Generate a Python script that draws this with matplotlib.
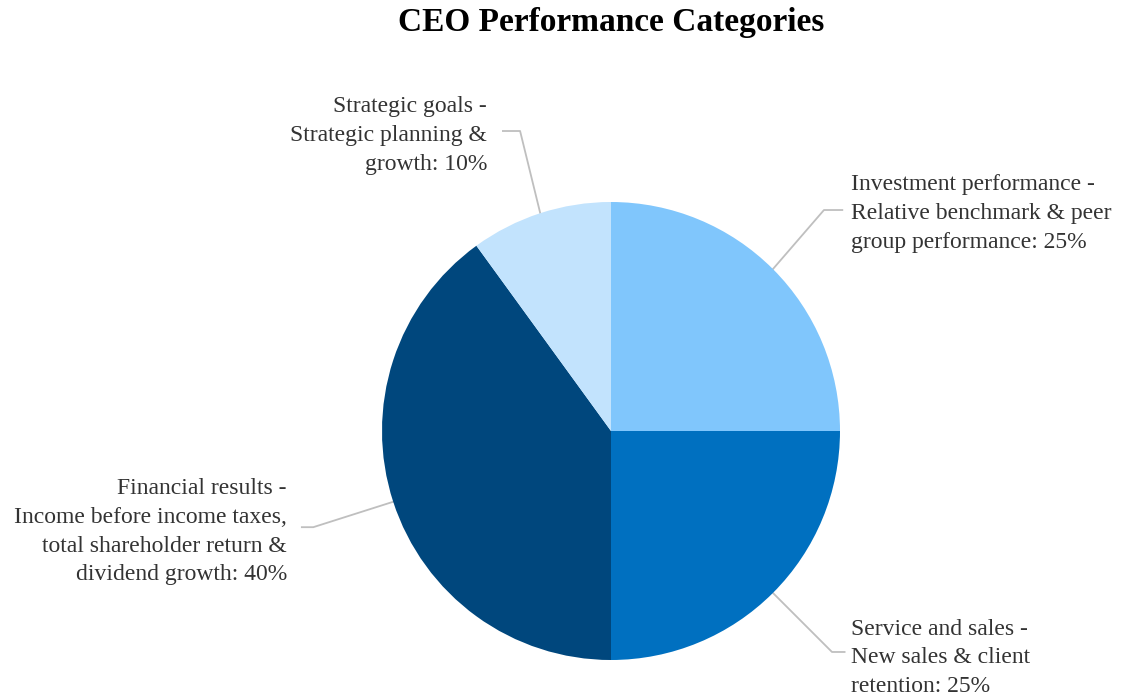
import matplotlib
matplotlib.use("Agg")
import matplotlib.pyplot as plt
import numpy as np

plt.rcParams['font.family'] = ['Liberation Serif', 'DejaVu Serif']

# data
categories = [
    "Investment performance -\nRelative benchmark & peer\ngroup performance",
    "Service and sales -\nNew sales & client\nretention",
    "Financial results -\nIncome before income taxes,\ntotal shareholder return &\ndividend growth",
    "Strategic goals -\nStrategic planning &\ngrowth",
]
shares = [25, 25, 40, 10]
colors = ["#80C6FC", "#0070C0", "#00477D", "#C2E3FD"]

fig = plt.figure(figsize=(11.22, 6.96), dpi=100)
W, H = 1122, 696
cx, cy, r = 611, 431, 229
ax = fig.add_axes([(cx - r) / W, (H - cy - r) / H, 2 * r / W, 2 * r / H])

wedges, _ = ax.pie(shares, colors=colors, startangle=90, counterclock=False,
                   radius=1, wedgeprops=dict(linewidth=0))
ax.set_xlim(-1, 1)
ax.set_ylim(-1, 1)
ax.set_aspect('equal')
ax.axis('off')

# label layout: (text x, text y, ha, elbow, line end) in pie units
layout = [
    ((1.048, 0.95), 'left', (0.93, 0.965), (1.01, 0.965)),
    ((1.048, -0.99), 'left', (0.965, -0.965), (1.02, -0.965)),
    ((-1.415, -0.44), 'right', (-1.30, -0.42), (-1.35, -0.42)),
    ((-0.541, 1.29), 'right', (-0.397, 1.31), (-0.472, 1.31)),
]

ang = 90.0
for lab, val, w, (txy, ha, elb, end) in zip(categories, shares, wedges, layout):
    mid = np.deg2rad(ang - val * 3.6 / 2)
    ang -= val * 3.6
    p0 = (np.cos(mid), np.sin(mid))
    ax.plot([p0[0], elb[0], end[0]], [p0[1], elb[1], end[1]],
            color="#BFBFBF", lw=1.3, clip_on=False, zorder=0)
    ax.text(txy[0], txy[1], f"{lab}: {val}%", ha=ha, va='center',
            fontsize=17, color="#333333", linespacing=1.48)

fig.text(0.5446, 1 - 23 / H, "CEO Performance Categories", ha='center', va='center',
         fontsize=24, fontweight='bold', color="black")

fig.savefig("out.png", dpi=100)
